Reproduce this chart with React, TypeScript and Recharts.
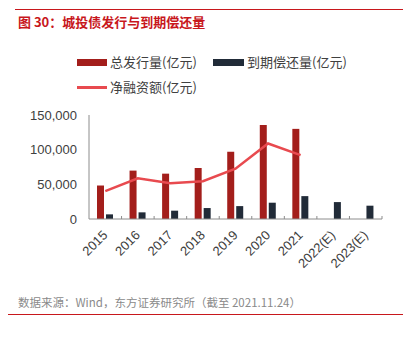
import { ComposedChart, Bar, Line, XAxis, YAxis } from "recharts"

// ------------------------------------------------------------------
// Data
// ------------------------------------------------------------------

const years = ["2015", "2016", "2017", "2018", "2019", "2020", "2021", "2022(E)", "2023(E)"]
const issuance = [48300, 69800, 65400, 73600, 97000, 135600, 130000, null, null]
const maturity = [6700, 9600, 12000, 15800, 18600, 23500, 33000, 24400, 19200]
const netFinancing = [40100, 58700, 51600, 54400, 72600, 108900, 92200, null, null]
const yTicks = [0, 50000, 100000, 150000]

const data = years.map((year, i) => ({
    year,
    issuance: issuance[i],
    maturity: maturity[i],
    net: netFinancing[i],
}))

const RED = "#a31e1b"
const DARK = "#212b38"
const LINE = "#e84a4f"
const AXIS = "#8c8c8c"
const TEXT = "#404040"
const CJK = "'Noto Sans CJK SC', 'Liberation Sans', sans-serif"

// ------------------------------------------------------------------
// Custom x tick: rotated label plus inward tick at the band edge
// ------------------------------------------------------------------

function YearTick(props: any) {
    const { x, y, payload } = props
    const half = payload?.offset ?? 16
    return (
        <g>
            <line x1={x + half} x2={x + half} y1={y} y2={y - 3} stroke={AXIS} />
            <g transform={`translate(${x + 3},${y + 17})`}>
                <text
                    transform="rotate(-45)"
                    textAnchor="end"
                    fontSize={13}
                    fill={TEXT}
                    fontFamily="'Liberation Sans', sans-serif"
                >
                    {payload.value}
                </text>
            </g>
        </g>
    )
}

// ------------------------------------------------------------------
// Page
// ------------------------------------------------------------------

export default function App() {
    const legendText = { position: "absolute" as const, fontSize: 13, color: TEXT, fontFamily: CJK, lineHeight: "14px" }

    return (
        <div style={{ position: "absolute", left: 0, top: 0, width: 403, height: 338, background: "#fff", overflow: "hidden" }}>
            <div style={{ position: "absolute", left: 15, top: 9, width: 388, height: 1, background: "#c8171c" }} />
            <div
                style={{
                    position: "absolute",
                    left: 18,
                    top: 12,
                    fontSize: 13,
                    fontWeight: 700,
                    color: "#c8171c",
                    fontFamily: CJK,
                    lineHeight: "20px",
                }}
            >
                图 30：城投债发行与到期偿还量
            </div>

            {/* legend */}
            <div style={{ position: "absolute", left: 77, top: 59, width: 30, height: 7, background: RED }} />
            <div style={{ ...legendText, left: 110, top: 55 }}>总发行量(亿元)</div>
            <div style={{ position: "absolute", left: 213, top: 59, width: 31, height: 7, background: DARK }} />
            <div style={{ ...legendText, left: 247, top: 55 }}>到期偿还量(亿元)</div>
            <div style={{ position: "absolute", left: 77, top: 86, width: 30, height: 3, background: LINE }} />
            <div style={{ ...legendText, left: 110, top: 80 }}>净融资额(亿元)</div>

            <div style={{ position: "absolute", left: 0, top: 0 }}>
                <ComposedChart
                    width={403}
                    height={338}
                    data={data}
                    margin={{ top: 115, right: 21, left: 0, bottom: 59 }}
                    barSize={7}
                    barGap={2}
                >
                    <XAxis
                        dataKey="year"
                        height={60}
                        interval={0}
                        tickLine={false}
                        tickSize={0}
                        tickMargin={0}
                        stroke={AXIS}
                        tick={<YearTick />}
                    />
                    <YAxis
                        width={89}
                        domain={[0, 150000]}
                        ticks={yTicks}
                        tickLine={false}
                        tickSize={6}
                        tickMargin={6}
                        stroke={AXIS}
                        tick={{ fontSize: 13, fill: TEXT, fontFamily: "'Liberation Sans', sans-serif" }}
                        tickFormatter={(v) => v.toLocaleString("en-US")}
                    />
                    <Bar dataKey="issuance" fill={RED} isAnimationActive={false} />
                    <Bar dataKey="maturity" fill={DARK} isAnimationActive={false} />
                    <Line
                        type="linear"
                        dataKey="net"
                        stroke={LINE}
                        strokeWidth={2.5}
                        dot={false}
                        activeDot={false}
                        isAnimationActive={false}
                    />
                </ComposedChart>
            </div>

            <div
                style={{
                    position: "absolute",
                    left: 18,
                    top: 295,
                    fontSize: 11.5,
                    color: "#8a8a8a",
                    fontFamily: CJK,
                    lineHeight: "14px",
                    whiteSpace: "nowrap",
                }}
            >
                数据来源：Wind，东方证券研究所（截至 2021.11.24）
            </div>
            <div style={{ position: "absolute", left: 8, top: 314, width: 395, height: 1, background: "#c8171c" }} />
        </div>
    )
}
